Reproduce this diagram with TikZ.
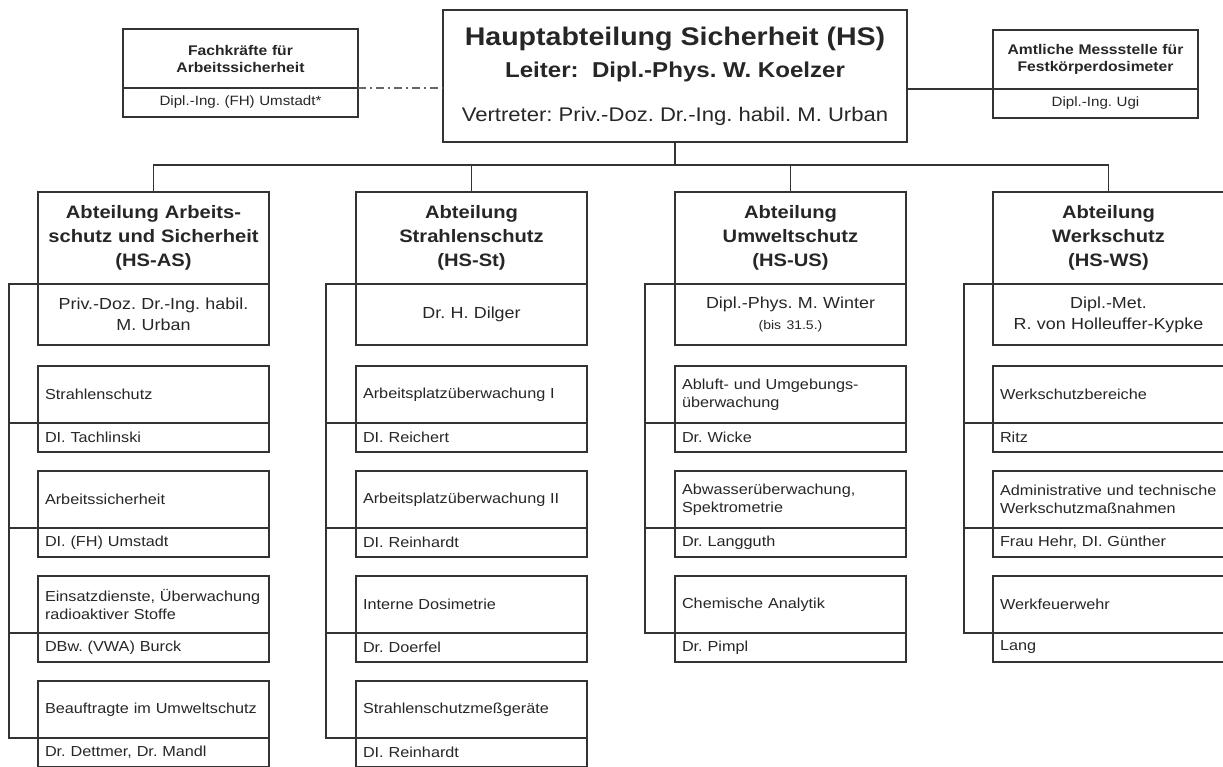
\documentclass[tikz,border=0pt]{standalone}
\usepackage{fontspec}
\setmainfont[FakeStretch=1.12]{Liberation Sans}
\usetikzlibrary{positioning}
\frenchspacing

\begin{document}
\begin{tikzpicture}[
    x=1pt, y=-1pt,
    node distance=20pt,
    every node/.style={inner ysep=0pt, inner xsep=7pt, outer sep=0pt, text=black!85},
    box/.style={rectangle, draw=black!80, line width=1.3pt},
    mainbox/.style={box, minimum width=464pt, minimum height=132pt, align=center, font=\fontsize{21.5}{35}\selectfont},
    staffhead/.style={box, minimum height=59pt, align=center, font=\fontsize{14}{17}\selectfont\bfseries},
    staffname/.style={box, minimum height=29pt, align=center, font=\fontsize{13.5}{15}\selectfont},
    depthead/.style={box, text width=217pt, minimum height=92pt, align=center, font=\fontsize{18}{24}\selectfont\bfseries},
    deptname/.style={box, text width=217pt, minimum height=61pt, align=center, font=\fontsize{16}{21}\selectfont},
    subhead/.style={box, text width=217pt, minimum height=57pt, align=left, font=\fontsize{14.5}{18.5}\selectfont},
    subname/.style={box, text width=217pt, minimum height=29pt, align=left, font=\fontsize{14.5}{16}\selectfont},
    line/.style={draw=black!80, line width=1.3pt},
    staffline/.style={draw=black!60, line width=1.3pt, dash pattern=on 8pt off 4pt on 2pt off 4pt}
]
\useasboundingbox (0,0) rectangle (1223,767);
\clip (0,0) rectangle (1223,767);

% Hauptabteilung
\node (hs) [mainbox] at (675,76) {\raisebox{-3pt}{\fontsize{25.5}{28}\selectfont\bfseries Hauptabteilung Sicherheit (HS)}\\
    {\bfseries Leiter:\ \ Dipl.-Phys. W. Koelzer}\\[9pt]
    {\fontsize{19.7}{22}\selectfont Vertreter: Priv.-Doz. Dr.-Ing. habil. M. Urban}};

% Stabsstellen
\node (fkhead) [staffhead, text width=221pt] at (240.5,58.5) {Fachkräfte für\\Arbeitssicherheit};
\node (fkname) [staffname, text width=221pt, below=0pt of fkhead] {Dipl.-Ing. (FH) Umstadt*};
\node (amhead) [staffhead, text width=191pt] at (1095.5,59.5) {Amtliche Messstelle für\\Festkörperdosimeter};
\node (amname) [staffname, text width=191pt, below=0pt of amhead] {Dipl.-Ing. Ugi};

% Abteilungen
\node (ashead) [depthead, anchor=north west] at (38,192) {Abteilung Arbeits-\\schutz und Sicherheit\\(HS-AS)};
\node (asname) [deptname, below=0pt of ashead] {Priv.-Doz. Dr.-Ing. habil.\\M. Urban};
\node (sthead) [depthead, right=87pt of ashead] {Abteilung\\Strahlenschutz\\(HS-St)};
\node (stname) [deptname, below=0pt of sthead] {Dr. H. Dilger};
\node (ushead) [depthead, right=88pt of sthead] {Abteilung\\Umweltschutz\\(HS-US)};
\node (usname) [deptname, below=0pt of ushead] {Dipl.-Phys. M. Winter\\{\fontsize{12.5}{14}\selectfont (bis 31.5.)}};
\node (wshead) [depthead, right=87pt of ushead] {Abteilung\\Werkschutz\\(HS-WS)};
\node (wsname) [deptname, below=0pt of wshead] {Dipl.-Met.\\R. von Holleuffer-Kypke};

% Sachgebiete HS-AS
\node (as1) [subhead, below=21pt of asname] {Strahlenschutz};
\node (as1n) [subname, below=0pt of as1] {DI. Tachlinski};
\node (as2) [subhead, below=19pt of as1n] {Arbeitssicherheit};
\node (as2n) [subname, below=0pt of as2] {DI. (FH) Umstadt};
\node (as3) [subhead, below=19pt of as2n] {Einsatzdienste, Überwachung\\radioaktiver Stoffe};
\node (as3n) [subname, below=0pt of as3] {DBw. (VWA) Burck};
\node (as4) [subhead, below=19pt of as3n] {Beauftragte im Umweltschutz};
\node (as4n) [subname, below=0pt of as4] {Dr. Dettmer, Dr. Mandl};

% Sachgebiete HS-St
\node (st1) [subhead, below=21pt of stname] {Arbeitsplatzüberwachung I};
\node (st1n) [subname, below=0pt of st1] {DI. Reichert};
\node (st2) [subhead, below=19pt of st1n] {Arbeitsplatzüberwachung II};
\node (st2n) [subname, below=0pt of st2] {DI. Reinhardt};
\node (st3) [subhead, below=19pt of st2n] {Interne Dosimetrie};
\node (st3n) [subname, below=0pt of st3] {Dr. Doerfel};
\node (st4) [subhead, below=19pt of st3n] {Strahlenschutzmeßgeräte};
\node (st4n) [subname, below=0pt of st4] {DI. Reinhardt};

% Sachgebiete HS-US
\node (us1) [subhead, below=21pt of usname] {Abluft- und Umgebungs-\\überwachung};
\node (us1n) [subname, below=0pt of us1] {Dr. Wicke};
\node (us2) [subhead, below=19pt of us1n] {Abwasserüberwachung,\\Spektrometrie};
\node (us2n) [subname, below=0pt of us2] {Dr. Langguth};
\node (us3) [subhead, below=19pt of us2n] {Chemische Analytik};
\node (us3n) [subname, below=0pt of us3] {Dr. Pimpl};

% Sachgebiete HS-WS
\node (ws1) [subhead, below=21pt of wsname] {Werkschutzbereiche};
\node (ws1n) [subname, below=0pt of ws1] {Ritz};
\node (ws2) [subhead, below=19pt of ws1n] {Administrative und technische\\Werkschutzmaßnahmen};
\node (ws2n) [subname, below=0pt of ws2] {Frau Hehr, DI. Günther};
\node (ws3) [subhead, below=19pt of ws2n] {Werkfeuerwehr};
\node (ws3n) [subname, below=0pt of ws3] {Lang};

% Verbindungen oben
\coordinate (hsbus) at (675,165);
\draw [line] (hs.south) -- (hsbus);
\draw [line] (ashead.north) |- (hsbus) -| (wshead.north);
\draw [line] (sthead.north) -- (sthead.north |- hsbus);
\draw [line] (ushead.north) -- (ushead.north |- hsbus);
\draw [staffline] (fkhead.south east) -- (fkhead.south east -| hs.west);
\draw [line] (amhead.south west) -- (amhead.south west -| hs.east);

% Verbindungen Sachgebiete
\coordinate (asbus) at ([xshift=-29pt]asname.north west);
\coordinate (stbus) at ([xshift=-30pt]stname.north west);
\coordinate (usbus) at ([xshift=-30pt]usname.north west);
\coordinate (wsbus) at ([xshift=-29pt]wsname.north west);
\draw [line] (asname.north west) -- (asbus) |- (as4n.north west);
\draw [line] (stname.north west) -- (stbus) |- (st4n.north west);
\draw [line] (usname.north west) -- (usbus) |- (us3n.north west);
\draw [line] (wsname.north west) -- (wsbus) |- (ws3n.north west);
\foreach \s in {as1n, as2n, as3n} \draw [line] (\s.north west) -- (\s.north west -| asbus);
\foreach \s in {st1n, st2n, st3n} \draw [line] (\s.north west) -- (\s.north west -| stbus);
\foreach \s in {us1n, us2n} \draw [line] (\s.north west) -- (\s.north west -| usbus);
\foreach \s in {ws1n, ws2n} \draw [line] (\s.north west) -- (\s.north west -| wsbus);

\end{tikzpicture}
\end{document}
